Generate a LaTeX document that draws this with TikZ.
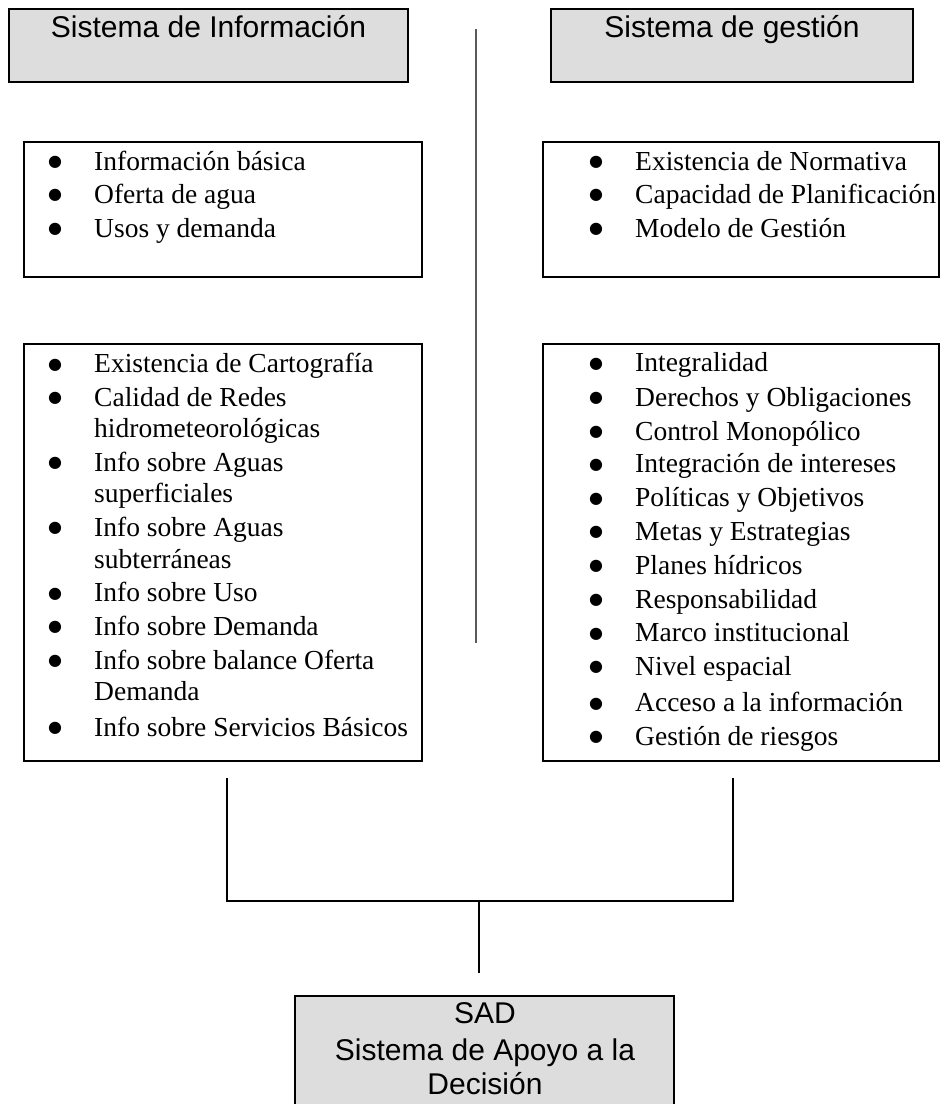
\documentclass[tikz,border=0pt]{standalone}
\usepackage{fontspec}
\setmainfont{Liberation Serif}
\setsansfont{Liberation Sans}
\newfontfamily\bulfont{DejaVu Sans}
\definecolor{boxgray}{RGB}{221,221,221}
\definecolor{divgray}{RGB}{90,90,90}
\newcommand{\bigbul}{\raisebox{3.6pt}{●}}
\tikzset{
  graybox/.style={draw=black, line width=1.6pt, fill=boxgray, inner sep=0pt},
  listbox/.style={draw=black, line width=1.6pt, fill=white, inner sep=0pt},
  head/.style={anchor=base, inner sep=0pt, font=\sffamily\fontsize{30}{36}\selectfont},
  itemtext/.style={anchor=base west, inner sep=0pt, font=\fontsize{27.5}{33}\selectfont},
  bul/.style={anchor=base, inner sep=0pt, font=\bulfont\fontsize{16}{18}\selectfont},
  conn/.style={line width=2pt, black},
  divider/.style={line width=2pt, divgray},
}
\begin{document}
\begin{tikzpicture}[x=1pt,y=-1pt]
\useasboundingbox[fill=white] (0,0) rectangle (940,1104);

% heading boxes
\node[graybox, minimum width=399, minimum height=73] (si) at (208.5,45.5) {};
\node[head] (sitxt) at (208.5,37.7) {Sistema de Información};
\node[graybox, minimum width=362, minimum height=73] (sg) at (732,45.5) {};
\node[head] (sgtxt) at (732,37.7) {Sistema de gestión};

% divider
\coordinate (dtop) at (476,29);
\coordinate (dbot) at (476,643);
\draw[divider] (dtop) -- (dbot);

% list boxes
\node[listbox, minimum width=398, minimum height=135] (l1) at (223,209.5) {};
\node[listbox, minimum width=398, minimum height=417] (l2) at (223,552.5) {};
\node[listbox, minimum width=396, minimum height=135] (r1) at (741,209.5) {};
\node[listbox, minimum width=396, minimum height=417] (r2) at (741,552.5) {};

% left list 1
\foreach \t/\y [count=\i] in {Información básica/170, Oferta de agua/203.5, Usos y demanda/237.5}{
  \node[bul] (l1b\i) at (55,\y) {\bigbul};
  \node[itemtext] (l1t\i) at (94,\y) {\t};
}
% left list 2 (bullets)
\foreach \y [count=\i] in {372.7, 406, 471, 536, 601.7, 635, 669.3, 736}{
  \node[bul] (l2b\i) at (55,\y) {\bigbul};
}
\foreach \t/\y [count=\i] in {Existencia de Cartografía/372.7, Calidad de Redes/406,
  hidrometeorológicas/437.3, Info sobre Aguas/471, superficiales/502.7,
  Info sobre Aguas/536, subterráneas/568.3, Info sobre Uso/601.7,
  Info sobre Demanda/635, Info sobre balance Oferta/669.3, Demanda/700,
  Info sobre Servicios Básicos/736}{
  \node[itemtext] (l2t\i) at (94,\y) {\t};
}

% right list 1
\foreach \t/\y [count=\i] in {Existencia de Normativa/170, Capacidad de Planificación/203.5, Modelo de Gestión/237.5}{
  \node[bul] (r1b\i) at (596,\y) {\bigbul};
  \node[itemtext] (r1t\i) at (635,\y) {\t};
}
% right list 2
\foreach \t/\y [count=\i] in {Integralidad/371.7, Derechos y Obligaciones/406,
  Control Monopólico/440, Integración de intereses/472.7,
  Políticas y Objetivos/506.7, Metas y Estrategias/540, Planes hídricos/574,
  Responsabilidad/608.3, Marco institucional/641.7, Nivel espacial/675,
  Acceso a la información/711.7, Gestión de riesgos/745}{
  \node[bul] (r2b\i) at (596,\y) {\bigbul};
  \node[itemtext] (r2t\i) at (635,\y) {\t};
}

% SAD box
\node[graybox, minimum width=379, minimum height=150] (sad) at (484.5,1071) {};
\node[head] (sad1) at (485,1023.3) {SAD};
\node[head] (sad2) at (485,1060) {Sistema de Apoyo a la};
\node[head] (sad3) at (485,1094) {Decisión};

% connectors
\coordinate (cl) at (227,778);
\coordinate (cr) at (733,778);
\coordinate (cm) at (479,901);
\coordinate (cs) at (479,973);
\draw[conn] (cl) |- (cm) -| (cr);
\draw[conn, line width=1.6pt] (cm) -- (cs);
\end{tikzpicture}
\end{document}
